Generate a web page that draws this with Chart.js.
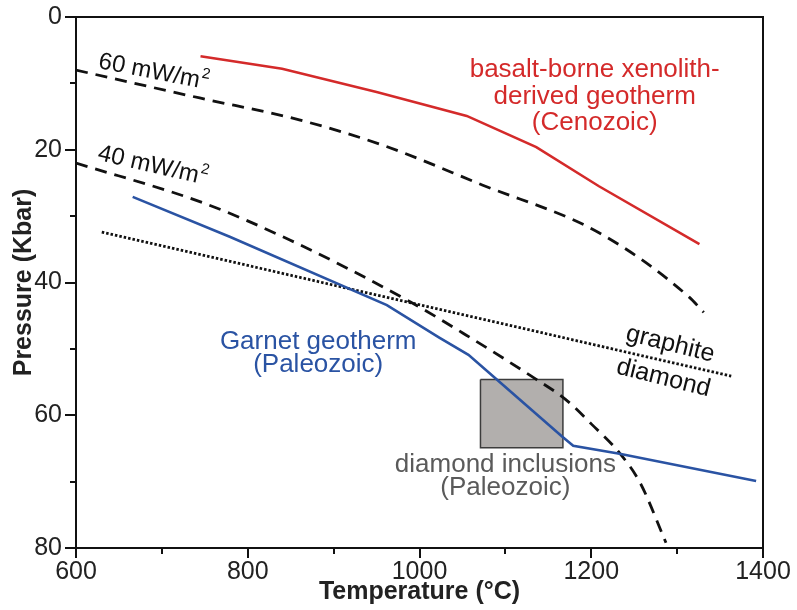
<!DOCTYPE html>
<html>
<head>
<meta charset="utf-8">
<script src="https://cdn.jsdelivr.net/npm/chart.js@4"></script>
<style>
  html, body { margin: 0; padding: 0; background: #fff; }
  #wrap { width: 797px; height: 610px; }
</style>
</head>
<body>
<div id="wrap"><canvas id="chart" width="797" height="610"></canvas></div>
<script>
// values: temperature (°C) vs pressure (kbar)
const cenozoicT = [745, 840, 950, 1055, 1136, 1209, 1326];
const cenozoicP = [5.9, 7.8, 11.3, 14.9, 19.6, 25.5, 34.2];

const garnetT = [666, 779, 962, 1023, 1057, 1090, 1166, 1179, 1233, 1392];
const garnetP = [27.1, 33.1, 43.4, 48.3, 50.9, 54.6, 63.2, 64.6, 65.8, 69.9];

const hf60T = [600, 744, 860, 957, 1073, 1209, 1314, 1331];
const hf60P = [8.0, 12.2, 15.5, 19.3, 25.3, 32.5, 42.2, 44.5];

const hf40T = [600, 748, 849, 989, 1054, 1136, 1170, 1200, 1233, 1257, 1287];
const hf40P = [22.0, 28.0, 33.6, 42.9, 47.9, 54.6, 57.6, 61.3, 65.7, 70.2, 79.2];

const graphiteDiamondT = [630, 1363];
const graphiteDiamondP = [32.4, 54.1];

const inclusionT = [1071, 1167];
const inclusionP = [54.6, 64.9];

const xTicks = [600, 800, 1000, 1200, 1400];
const yTicks = [0, 20, 40, 60, 80];

const FONT = "'Liberation Sans', Arial, sans-serif";

function pts(xs, ys) {
  return xs.map((x, i) => ({ x: x, y: ys[i] }));
}

// rectangle for the diamond inclusion field
const boxPts = [
  { x: inclusionT[0], y: inclusionP[0] },
  { x: inclusionT[1], y: inclusionP[0] },
  { x: inclusionT[1], y: inclusionP[1] },
  { x: inclusionT[0], y: inclusionP[1] },
  { x: inclusionT[0], y: inclusionP[0] }
];

// text labels placed in data coordinates
const notes = [
  { lines: ['basalt-borne xenolith-', 'derived geotherm', '(Cenozoic)'], x: 1204, y: [8.0, 12.05, 16.0], color: '#d42a2a', size: 26 },
  { lines: ['Garnet geotherm', '(Paleozoic)'], x: 882, y: [49.0, 52.4], color: '#2a53a3', size: 26 },
  { lines: ['diamond inclusions', '(Paleozoic)'], x: 1100, y: [67.5, 71.0], color: '#5a5a5a', size: 26 },
  { lines: ['graphite'], x: 1292, y: [49.3], color: '#111', size: 25, rot: 14 },
  { lines: ['diamond'], x: 1284, y: [54.4], color: '#111', size: 25, rot: 14 }
];
const fluxNotes = [
  { text: '60 mW/m', sup: '2', x: 690, y: 8.3, rot: 11 },
  { text: '40 mW/m', sup: '2', x: 689, y: 22.4, rot: 13 }
];

const decorPlugin = {
  id: 'decor',
  afterDatasetsDraw(chart) {
    const ctx = chart.ctx;
    const xs = chart.scales.x, ys = chart.scales.y;
    const area = chart.chartArea;
    ctx.save();

    // frame
    ctx.strokeStyle = '#111';
    ctx.lineWidth = 2;
    ctx.strokeRect(area.left, area.top, area.right - area.left, area.bottom - area.top);

    // tick marks (major longer than minor)
    ctx.beginPath();
    xs.ticks.forEach(t => {
      const px = Math.round(xs.getPixelForValue(t.value));
      const len = xTicks.includes(t.value) ? 10 : 6;
      ctx.moveTo(px, area.bottom);
      ctx.lineTo(px, area.bottom + len);
    });
    ys.ticks.forEach(t => {
      const py = Math.round(ys.getPixelForValue(t.value));
      const len = yTicks.includes(t.value) ? 11 : 6;
      ctx.moveTo(area.left, py);
      ctx.lineTo(area.left - len, py);
    });
    ctx.stroke();

    // labels
    notes.forEach(n => {
      ctx.fillStyle = n.color;
      ctx.font = n.size + 'px ' + FONT;
      ctx.textAlign = 'center';
      ctx.textBaseline = 'middle';
      n.lines.forEach((line, i) => {
        const px = xs.getPixelForValue(n.x);
        const py = ys.getPixelForValue(n.y[i]);
        ctx.save();
        ctx.translate(px, py);
        if (n.rot) ctx.rotate(n.rot * Math.PI / 180);
        ctx.fillText(line, 0, 0);
        ctx.restore();
      });
    });

    fluxNotes.forEach(n => {
      const px = xs.getPixelForValue(n.x);
      const py = ys.getPixelForValue(n.y);
      ctx.save();
      ctx.translate(px, py);
      ctx.rotate(n.rot * Math.PI / 180);
      ctx.fillStyle = '#111';
      ctx.textBaseline = 'middle';
      ctx.textAlign = 'left';
      ctx.font = '24px ' + FONT;
      const w1 = ctx.measureText(n.text).width;
      ctx.font = '15px ' + FONT;
      const w2 = ctx.measureText(n.sup).width;
      const x0 = -(w1 + w2) / 2;
      ctx.font = '24px ' + FONT;
      ctx.fillText(n.text, x0, 0);
      ctx.font = '15px ' + FONT;
      ctx.fillText(n.sup, x0 + w1 + 1, -8);
      ctx.restore();
    });

    ctx.restore();
  }
};

new Chart(document.getElementById('chart'), {
  type: 'scatter',
  data: {
    datasets: [
      {
        label: 'basalt-borne xenolith-derived geotherm (Cenozoic)',
        data: pts(cenozoicT, cenozoicP),
        showLine: true, borderColor: '#d42a2a', borderWidth: 2.6,
        pointRadius: 0, tension: 0
      },
      {
        label: 'Garnet geotherm (Paleozoic)',
        data: pts(garnetT, garnetP),
        showLine: true, borderColor: '#2a53a3', borderWidth: 2.6,
        pointRadius: 0, tension: 0
      },
      {
        label: '60 mW/m2',
        data: pts(hf60T, hf60P),
        showLine: true, borderColor: '#111', borderWidth: 2.8, borderDash: [12, 8],
        pointRadius: 0, cubicInterpolationMode: 'monotone'
      },
      {
        label: '40 mW/m2',
        data: pts(hf40T, hf40P),
        showLine: true, borderColor: '#111', borderWidth: 2.8, borderDash: [12, 8],
        pointRadius: 0, cubicInterpolationMode: 'monotone'
      },
      {
        label: 'graphite / diamond',
        data: pts(graphiteDiamondT, graphiteDiamondP),
        showLine: true, borderColor: '#111', borderWidth: 2.8, borderDash: [2.5, 2],
        pointRadius: 0
      },
      {
        label: 'diamond inclusions (Paleozoic)',
        data: boxPts,
        showLine: true, borderColor: '#3c3c3c', borderWidth: 1.5,
        backgroundColor: '#b2afad', fill: 'shape',
        pointRadius: 0, tension: 0, order: 5
      }
    ]
  },
  options: {
    responsive: false,
    animation: false,
    events: [],
    layout: { padding: { top: 17, right: 34, bottom: 0, left: 0 } },
    plugins: {
      legend: { display: false },
      tooltip: { enabled: false }
    },
    scales: {
      x: {
        type: 'linear',
        min: 600, max: 1400,
        border: { display: false },
        grid: { display: false, drawTicks: false },
        ticks: {
          stepSize: 100,
          padding: 9,
          color: '#222',
          font: { family: FONT, size: 25 },
          maxRotation: 0,
          autoSkip: false,
          callback: v => xTicks.includes(v) ? String(v) : ''
        },
        title: {
          display: true,
          text: 'Temperature (°C)',
          color: '#222',
          font: { family: FONT, size: 25, weight: 'bold' },
          padding: { top: 0, bottom: 3 }
        },
        afterFit: s => { s.height = 62; s.paddingLeft = 0; s.paddingRight = 0; }
      },
      y: {
        type: 'linear',
        min: 0, max: 80,
        reverse: true,
        border: { display: false },
        grid: { display: false, drawTicks: false },
        ticks: {
          stepSize: 10,
          padding: 14,
          color: '#222',
          font: { family: FONT, size: 25 },
          autoSkip: false,
          callback: v => yTicks.includes(v) ? String(v) : ''
        },
        title: {
          display: true,
          text: 'Pressure (Kbar)',
          color: '#222',
          font: { family: FONT, size: 25, weight: 'bold' },
          padding: { top: 9, bottom: 0 }
        },
        afterFit: s => { s.width = 76; s.paddingTop = 0; s.paddingBottom = 0; }
      }
    }
  },
  plugins: [decorPlugin]
});
</script>
</body>
</html>
